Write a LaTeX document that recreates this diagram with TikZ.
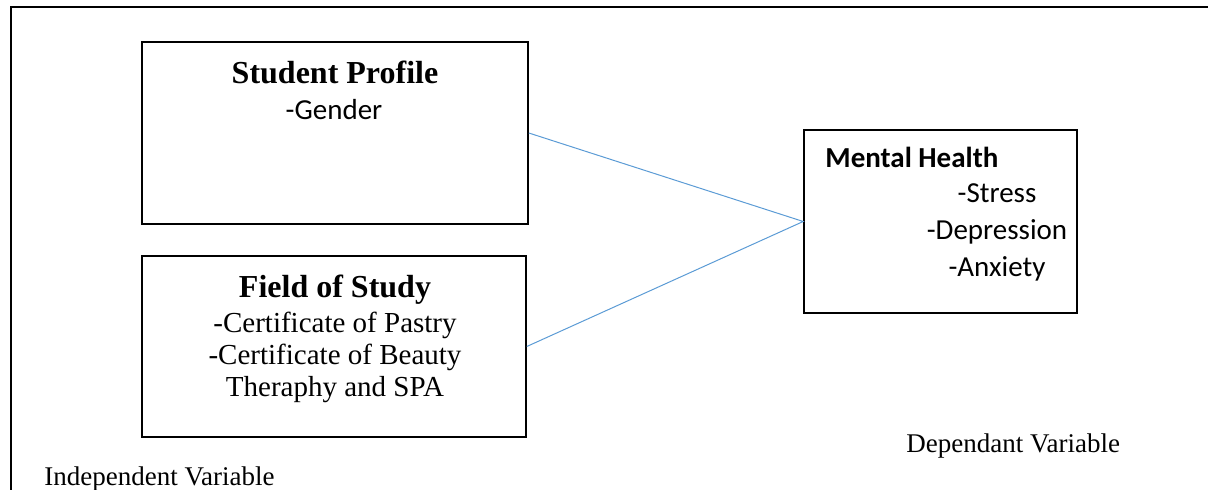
\documentclass[tikz,border=0pt]{standalone}
\usepackage{fontspec}
\setmainfont{Liberation Serif}
\newfontfamily\calibri{Carlito}
\definecolor{linkblue}{RGB}{91,155,213}
\begin{document}
\begin{tikzpicture}[x=0.5pt,y=-0.5pt,
  box/.style={draw=black,line width=0.8pt,inner sep=0pt,rectangle},
  serifhead/.style={anchor=base,inner sep=0pt,font=\fontsize{16}{19}\selectfont\bfseries},
  seriftext/.style={anchor=base,inner sep=0pt,font=\fontsize{14.5}{16}\selectfont},
  sanshead/.style={anchor=base west,inner sep=0pt,font=\calibri\fontsize{14.5}{17}\selectfont\bfseries},
  sanstext/.style={anchor=base,inner sep=0pt,font=\calibri\fontsize{14.5}{17}\selectfont},
  caption/.style={anchor=base west,inner sep=0pt,font=\fontsize{13.5}{15}\selectfont},
  link/.style={draw=linkblue,line width=0.5pt}]
\useasboundingbox (0,0) rectangle (1208,490);
% outer frame (top and left)
\coordinate (frameTR) at (1208,7);
\coordinate (frameTL) at (11,7);
\coordinate (frameBL) at (11,490);
\draw[line width=1.2pt,line cap=rect] (frameTR) -- (frameTL) -- (frameBL);
% boxes
\node[box,minimum width=193pt,minimum height=91pt] (sp) at (335,133) {};
\node[box,minimum width=192pt,minimum height=90.5pt] (fs) at (334,346.5) {};
\node[box,minimum width=136.5pt,minimum height=91.5pt] (mh) at (940.5,221.5) {};
% texts
\node[serifhead] (spt) at (335,84) {Student Profile};
\node[sanstext] (spg) at (334,120) {-Gender};
\node[serifhead] (fst) at (335,298) {Field of Study};
\node[seriftext] (fs1) at (335,333) {-Certificate of Pastry};
\node[seriftext] (fs2) at (335,365) {-Certificate of Beauty};
\node[seriftext] (fs3) at (335,397) {Theraphy and SPA};
\node[sanshead] (mht) at (825,168) {Mental Health};
\node[sanstext] (mh1) at (997,203) {-Stress};
\node[sanstext] (mh2) at (997,240) {-Depression};
\node[sanstext] (mh3) at (997,277) {-Anxiety};
\node[caption] (iv) at (44,486) {Independent Variable};
\node[caption] (dv) at (906,453) {Dependant Variable};
% connectors
\draw[link] (sp.east) -- (mh.west) -- (fs.east);
\end{tikzpicture}
\end{document}
